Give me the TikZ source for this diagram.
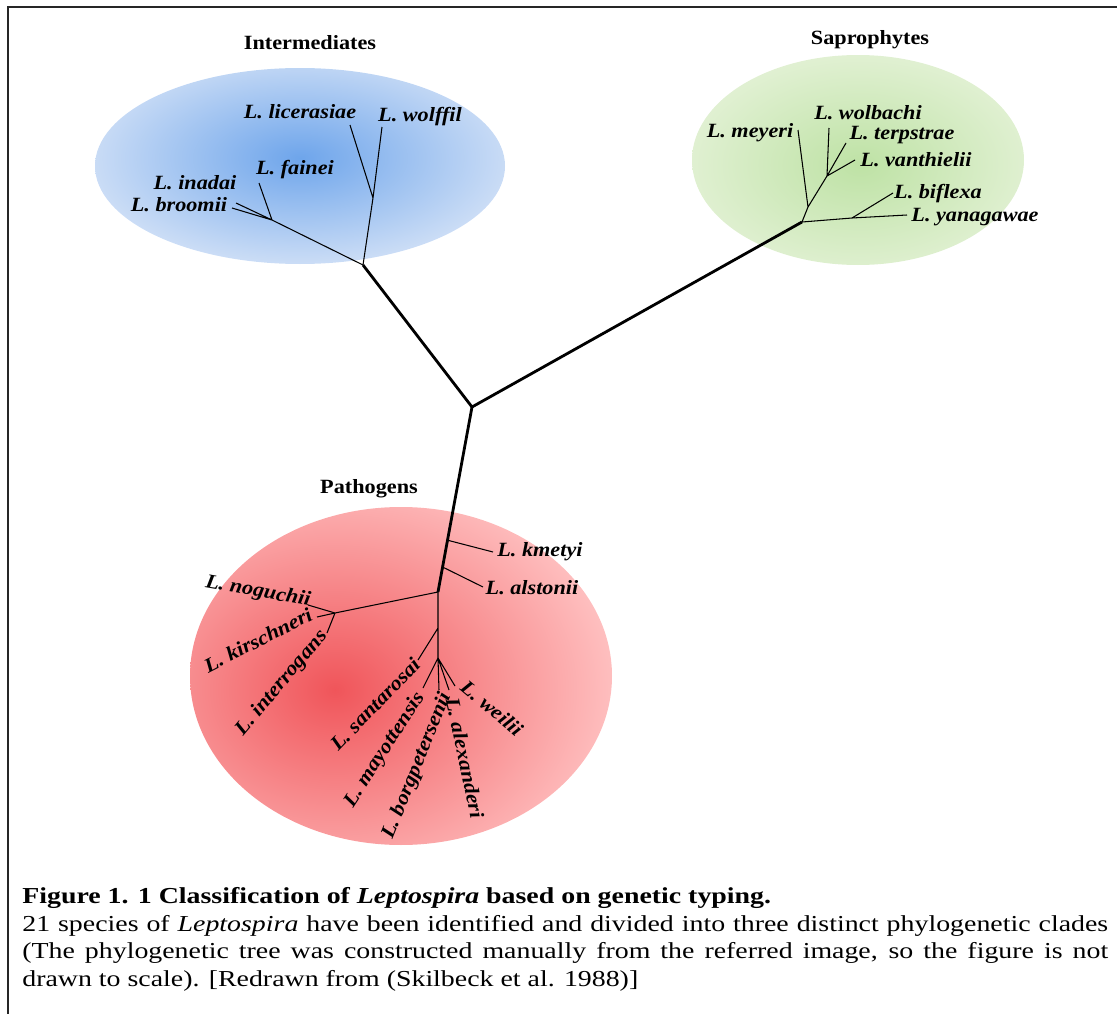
\documentclass[tikz,border=0pt]{standalone}
\usepackage{fontspec}
\setmainfont{Liberation Serif}[FakeStretch=1.1]
\newfontfamily\captionfont{Liberation Serif}[FakeStretch=1.22]
\usetikzlibrary{positioning,calc}
\definecolor{intcore}{RGB}{110,165,235}
\definecolor{intedge}{RGB}{205,222,246}
\definecolor{sapcore}{RGB}{190,226,165}
\definecolor{sapedge}{RGB}{226,241,212}
\definecolor{patcore}{RGB}{240,85,90}
\definecolor{patedge}{RGB}{255,195,195}
\tikzset{
  taxon/.style={font=\fontsize{11.5}{13}\selectfont\bfseries\itshape, inner sep=1pt},
  cladename/.style={font=\fontsize{11.5}{13}\selectfont\bfseries},
  branch/.style={line width=0.6pt},
  trunk/.style={line width=1.6pt},
}

\begin{document}
\begin{tikzpicture}[x=0.02cm, y=-0.02cm]
    \useasboundingbox (0,0) rectangle (1117,1014);
    \draw[line width=1.2pt, black!85] (1117,7) -- (8,7) -- (8,1014);
    % clade backgrounds
    \begin{scope}
      \clip (300,166) ellipse (205 and 98);
      \shade[inner color=intcore, outer color=intedge] (300,158) ellipse (215 and 108);
    \end{scope}
    \begin{scope}
      \clip (858,160) ellipse (166 and 105);
      \shade[inner color=sapcore, outer color=sapedge] (860,165) ellipse (180 and 115);
    \end{scope}
    \begin{scope}
      \clip (401,676) ellipse (211 and 169);
      \shade[inner color=patcore, outer color=patedge] (335,690) ellipse (290 and 230);
    \end{scope}
    \node[cladename] (hint)  at (310,43)  {Intermediates};
    \node[cladename] (hsap)  at (870,40)  {Saprophytes};
    \node[cladename] (hpath) at (369,489) {Pathogens};
    % backbone
    \coordinate (root)  at (472,407);
    \coordinate (nint)  at (363,265);
    \coordinate (nsap)  at (802,222);
    \coordinate (npath) at (438,592);
    \draw[trunk] (nint) -- (root) -- (nsap);
    \draw[trunk] (root) -- (npath);
    % intermediates
    \coordinate (nwol) at (373,198);
    \coordinate (nfai) at (272,220);
    \coordinate (tlic) at (350,125);
    \coordinate (twol) at (382,127);
    \coordinate (tfai) at (259,183);
    \coordinate (tina) at (236,203);
    \coordinate (tbro) at (232,208);
    \draw[branch] (nint) -- (nwol) -- (tlic) (nwol) -- (twol);
    \draw[branch] (nint) -- (nfai) -- (tfai) (nfai) -- (tina) (nfai) -- (tbro);
    \node[taxon] (llic) at (300,112) {L. licerasiae};
    \node[taxon] (lwol) at (420,117) {L. wolffil};
    \node[taxon] (lfai) at (295,170) {L. fainei};
    \node[taxon] (lina) at (195,183) {L. inadai};
    \node[taxon] (lbro) at (179,205) {L. broomii};
    % saprophytes
    \coordinate (nmey) at (808,207);
    \coordinate (nwlb) at (827,176);
    \coordinate (nbif) at (852,218);
    \coordinate (tmey) at (798,130);
    \coordinate (twlb) at (829,128);
    \coordinate (tter) at (846,143);
    \coordinate (tvan) at (855,160);
    \coordinate (tbif) at (893,193);
    \coordinate (tyan) at (907,215);
    \draw[branch] (nsap) -- (nmey) -- (nwlb) -- (twlb) (nwlb) -- (tter) (nwlb) -- (tvan) (nmey) -- (tmey);
    \draw[branch] (nsap) -- (nbif) -- (tyan) (nbif) -- (tbif);
    \node[taxon] (lmey) at (750,133) {L. meyeri};
    \node[taxon] (lwlb) at (868,113) {L. wolbachi};
    \node[taxon] (lter) at (902,135) {L. terpstrae};
    \node[taxon] (lvan) at (916,160) {L. vanthielii};
    \node[taxon] (lbif) at (938,194) {L. biflexa};
    \node[taxon] (lyan) at (975,217) {L. yanagawae};
    % pathogens
    \coordinate (nkme) at ($(root)!0.72!(npath)$);
    \coordinate (nals) at ($(root)!0.865!(npath)$);
    \coordinate (tkme) at (493,552);
    \coordinate (tals) at (483,587);
    \coordinate (nnog) at (335,613);
    \coordinate (tnog) at (308,605);
    \coordinate (tkir) at (317,617);
    \coordinate (tint) at (327,633);
    \coordinate (nsan) at (438,628);
    \coordinate (tsan) at (418,660);
    \coordinate (nbor) at (438,658);
    \coordinate (tmay) at (423,688);
    \coordinate (tbor) at (439,690);
    \coordinate (talx) at (449,690);
    \coordinate (twei) at (455,686);
    \draw[branch] (nkme) -- (tkme) (nals) -- (tals);
    \draw[branch] (npath) -- (nnog) -- (tnog) (nnog) -- (tkir) (nnog) -- (tint);
    \draw[branch] (npath) -- (nsan) -- (tsan) (nsan) -- (nbor);
    \draw[branch] (nbor) -- (tmay) (nbor) -- (tbor) (nbor) -- (talx) (nbor) -- (twei);
    \node[taxon] (lkme) at (540,552) {L. kmetyi};
    \node[taxon] (lals) at (532,588) {L. alstonii};
    \node[taxon, rotate=-10] (lnog) at (258,592) {L. noguchii};
    \node[taxon, rotate=27]  (lkir) at (258,640) {L. kirschneri};
    \node[taxon, rotate=50]  (lint) at (282,683) {L. interrogans};
    \node[taxon, rotate=46]  (lsan) at (375,704) {L. santarosai};
    \node[taxon, rotate=57]  (lmay) at (385,750) {L. mayottensis};
    \node[taxon, rotate=68]  (lbor) at (417,766) {L. borgpetersenii};
    \node[taxon, rotate=-78] (lalx) at (465,758) {L. alexanderi};
    \node[taxon, rotate=-40] (lwei) at (492,708) {L. weilii};
    % caption
    \node[anchor=north west, text width=618pt, align=justify, inner sep=0pt,
          font=\captionfont\fontsize{13}{15.7}\selectfont] (capt) at (22,887)
      {\textbf{Figure 1. 1 Classification of \textit{Leptospira} based on genetic typing.}\par
       21 species of \textit{Leptospira} have been identified and divided into three distinct phylogenetic clades (The phylogenetic tree was constructed manually from the referred image, so the figure is not drawn to scale). [Redrawn from (Skilbeck et al. 1988)]};
  \end{tikzpicture}
\end{document}
